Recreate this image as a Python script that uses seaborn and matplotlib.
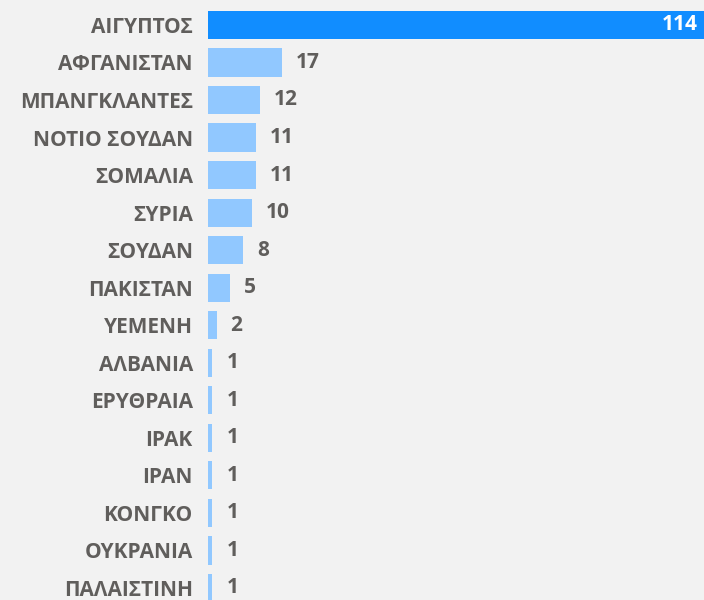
import pandas as pd
import seaborn as sns
import matplotlib
matplotlib.use('Agg')
import matplotlib.pyplot as plt

# data
countries = ["ΑΙΓΥΠΤΟΣ", "ΑΦΓΑΝΙΣΤΑΝ", "ΜΠΑΝΓΚΛΑΝΤΕΣ", "ΝΟΤΙΟ ΣΟΥΔΑΝ", "ΣΟΜΑΛΙΑ",
             "ΣΥΡΙΑ", "ΣΟΥΔΑΝ", "ΠΑΚΙΣΤΑΝ", "ΥΕΜΕΝΗ", "ΑΛΒΑΝΙΑ", "ΕΡΥΘΡΑΙΑ",
             "ΙΡΑΚ", "ΙΡΑΝ", "ΚΟΝΓΚΟ", "ΟΥΚΡΑΝΙΑ", "ΠΑΛΑΙΣΤΙΝΗ"]
counts = [114, 17, 12, 11, 11, 10, 8, 5, 2, 1, 1, 1, 1, 1, 1, 1]

df = pd.DataFrame({"country": countries, "count": counts})

bg = "#f2f2f2"
text_col = "#605e5c"
colors = ["#118dff"] + ["#91c8ff"] * (len(countries) - 1)

sns.set_style("white")
plt.rcParams['font.family'] = ['Open Sans', 'DejaVu Sans']

fig = plt.figure(figsize=(7.04, 6.0), dpi=100, facecolor=bg)
ax = fig.add_axes([0.2955, -0.01125, 0.7045, 1.0010])
ax.set_facecolor(bg)

sns.barplot(data=df, x="count", y="country", hue="country", palette=colors,
            legend=False, width=0.75, ax=ax, saturation=1, linewidth=0)

ax.set_xlim(0, 114)
ax.set_ylim(15.5, -0.5)
ax.set_xlabel("")
ax.set_ylabel("")
ax.set_xticks([])
for s in ax.spines.values():
    s.set_visible(False)
fs = 15
ax.tick_params(axis="y", length=0, pad=11, labelsize=fs, labelcolor=text_col)
for lab in ax.get_yticklabels():
    lab.set_fontweight("bold")

for i, v in enumerate(counts):
    if i == 0:
        ax.text(v - 1.5, i, str(v), ha="right", va="center", color="white",
                fontsize=fs, fontweight="bold")
    else:
        ax.text(v + 3.2, i, str(v), ha="left", va="center", color=text_col,
                fontsize=fs, fontweight="bold")

fig.savefig("out.png", dpi=100, facecolor=bg)
